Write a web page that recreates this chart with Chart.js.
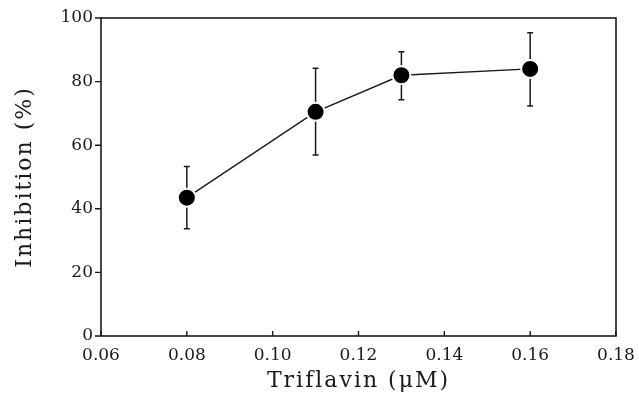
<!DOCTYPE html>
<html>
<head>
<meta charset="utf-8">
<script src="https://cdn.jsdelivr.net/npm/chart.js@4/dist/chart.umd.min.js"></script>
<style>
  html, body { margin: 0; padding: 0; background: #fff; }
  #wrap { width: 639px; height: 401px; }
</style>
</head>
<body>
<div id="wrap"><canvas id="c" width="639" height="401"></canvas></div>
<script>
// Data
const concentrations = [0.08, 0.11, 0.13, 0.16];      // Triflavin (µM)
const inhibition     = [43.5, 70.5, 82.0, 84.0];      // mean inhibition (%)
const errorUpper     = [53.3, 84.2, 89.4, 95.4];      // top of error bar (%)
const errorLower     = [33.7, 56.9, 74.3, 72.3];      // bottom of error bar (%)
const xTickValues    = [0.06, 0.08, 0.10, 0.12, 0.14, 0.16, 0.18];
const yTickValues    = [0, 20, 40, 60, 80, 100];

const INK = '#1a1a1a';
const FONT = "'DejaVu Serif', 'Liberation Serif', serif";

const points = concentrations.map((x, i) => ({ x: x, y: inhibition[i] }));

const errorBarPlugin = {
  id: 'errorBars',
  beforeDatasetsDraw(chart) {
    const ctx = chart.ctx;
    const xs = chart.scales.x, ys = chart.scales.y;
    ctx.save();
    ctx.strokeStyle = INK;
    ctx.lineWidth = 1.5;
    concentrations.forEach((c, i) => {
      const px = xs.getPixelForValue(c);
      const top = ys.getPixelForValue(errorUpper[i]);
      const bot = ys.getPixelForValue(errorLower[i]);
      ctx.beginPath();
      ctx.moveTo(px, top); ctx.lineTo(px, bot);
      ctx.moveTo(px - 3, top); ctx.lineTo(px + 3, top);
      ctx.moveTo(px - 3, bot); ctx.lineTo(px + 3, bot);
      ctx.stroke();
    });
    ctx.restore();
  }
};

const framePlugin = {
  id: 'frame',
  beforeDatasetsDraw(chart) {
    const ctx = chart.ctx;
    const a = chart.chartArea;
    const xs = chart.scales.x, ys = chart.scales.y;
    ctx.save();
    ctx.strokeStyle = INK;
    ctx.lineWidth = 1.6;
    ctx.strokeRect(a.left, a.top, a.right - a.left, a.bottom - a.top);
    ctx.lineWidth = 1.4;
    ctx.beginPath();
    xTickValues.forEach(v => {
      const px = xs.getPixelForValue(v);
      ctx.moveTo(px, a.bottom); ctx.lineTo(px, a.bottom - 5);
    });
    yTickValues.forEach(v => {
      const py = ys.getPixelForValue(v);
      ctx.moveTo(a.left, py); ctx.lineTo(a.left - 6, py);
    });
    ctx.stroke();
    ctx.restore();
  }
};

// draw axis titles with slight extra letter spacing like the reference typeface
function spacedTitle(scale) {
  if (scale._spacedPatched) return;
  scale._spacedPatched = true;
  const orig = scale.drawTitle;
  scale.drawTitle = function () {
    const ctx = this.ctx;
    const prev = ctx.letterSpacing;
    ctx.letterSpacing = '2px';
    orig.apply(this, arguments);
    ctx.letterSpacing = prev || '0px';
  };
}

new Chart(document.getElementById('c'), {
  type: 'line',
  data: {
    datasets: [{
      data: points,
      borderColor: INK,
      borderWidth: 1.4,
      pointRadius: 9,
      pointHoverRadius: 9,
      pointBackgroundColor: '#000',
      pointBorderColor: '#fff',
      pointBorderWidth: 2,
      tension: 0,
      fill: false
    }]
  },
  options: {
    responsive: false,
    animation: false,
    events: [],
    layout: { padding: { top: 18, right: 23, left: 0, bottom: 0 } },
    plugins: { legend: { display: false }, tooltip: { enabled: false } },
    scales: {
      x: {
        type: 'linear',
        min: 0.06, max: 0.18,
        afterBuildTicks(scale) { scale.ticks = xTickValues.map(v => ({ value: v })); },
        afterFit(scale) { scale.height = 65; scale.paddingLeft = 0; scale.paddingRight = 0; spacedTitle(scale); },
        border: { display: false },
        grid: { display: false, drawTicks: false },
        ticks: {
          color: INK,
          font: { family: FONT, size: 17 },
          padding: 9,
          maxRotation: 0,
          callback: v => Number(v).toFixed(2)
        },
        title: {
          display: true,
          text: 'Triflavin (\u03BCM)',
          color: INK,
          font: { family: FONT, size: 22 },
          padding: { top: 0, bottom: 7 }
        }
      },
      y: {
        type: 'linear',
        min: 0, max: 100,
        afterBuildTicks(scale) { scale.ticks = yTickValues.map(v => ({ value: v })); },
        afterFit(scale) { scale.width = 101; scale.paddingTop = 0; scale.paddingBottom = 0; spacedTitle(scale); },
        border: { display: false },
        grid: { display: false, drawTicks: false },
        ticks: {
          color: INK,
          font: { family: FONT, size: 17 },
          padding: 8
        },
        title: {
          display: true,
          text: 'Inhibition (%)',
          color: INK,
          font: { family: FONT, size: 22 },
          padding: { top: 12, bottom: 0 }
        }
      }
    }
  },
  plugins: [errorBarPlugin, framePlugin]
});
</script>
</body>
</html>
